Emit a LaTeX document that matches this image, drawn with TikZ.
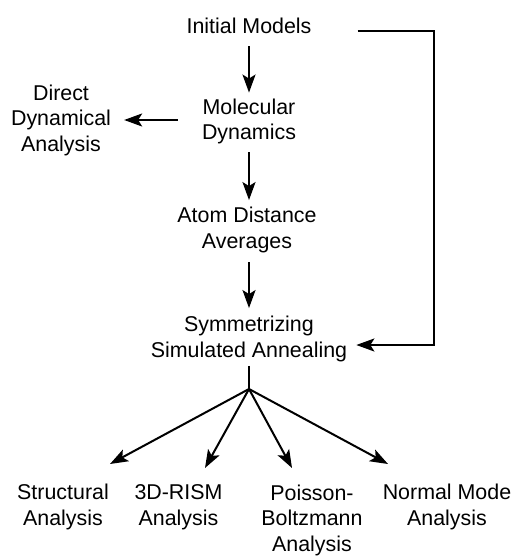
\documentclass[tikz,border=0pt]{standalone}
\usepackage{fontspec}
\setmainfont{Liberation Sans}
\usetikzlibrary{arrows.meta}

\begin{document}
\begin{tikzpicture}[x=1pt, y=-1pt,
		lbl/.style={align=center, inner sep=0pt, font=\fontsize{21.4}{25.5}\selectfont},
		arr/.style={-{Stealth[length=18pt, width=13pt, inset=4pt]}, line width=2pt},
		ln/.style={line width=2pt}]
		\def \xm {249}
		\useasboundingbox (0,0) rectangle (513,556);

		% main column
		\node[lbl] (init) at (\xm,26) {Initial Models};
		\node[lbl] (md)   at (\xm,121.5) {Molecular\\Dynamics};
		\node[lbl] (ada)  at (\xm-2,230) {Atom Distance\\Averages};
		\node[lbl] (ssa)  at (\xm,339) {Symmetrizing\\Simulated Annealing};
		\node[lbl] (dda)  at (61,120) {Direct\\Dynamical\\Analysis};

		\draw[arr, shorten <=12pt, shorten >=6pt] (init) -- (md);
		\draw[arr, shorten <=8pt, shorten >=7pt] (md.south) -- (md.south |- ada.north);
		\draw[arr, shorten <=9.5pt, shorten >=8pt] (ssa.north |- ada.south) -- (ssa.north);
		\draw[arr, shorten <=24pt, shorten >=13pt] (md.west |- dda) -- (dda);

		% loop back
		\coordinate (turn) at (434,200);
		\draw[arr, shorten <=46pt, shorten >=9pt] ([yshift=-5pt]init.east) -| (turn) |- ([yshift=-6pt]ssa.east);

		% analyses
		\node[lbl] (sa)  at (63,507)  {Structural\\Analysis};
		\node[lbl] (rism) at (178.5,507) {3D-RISM\\Analysis};
		\node[lbl] (pb)  at (312,520) {Poisson-\\Boltzmann\\Analysis};
		\node[lbl] (nma) at (447,507) {Normal Mode\\Analysis};

		\coordinate (hub) at (\xm,389);
		\draw[ln, shorten <=4pt] (ssa) -- (hub);
		\coordinate (t1) at (110,464);
		\coordinate (t2) at (205,468);
		\coordinate (t3) at (292,468);
		\coordinate (t4) at (388,464);
		\foreach \t in {t1,t2,t3,t4}
			\draw[arr] (hub) -- (\t);
	\end{tikzpicture}
\end{document}
